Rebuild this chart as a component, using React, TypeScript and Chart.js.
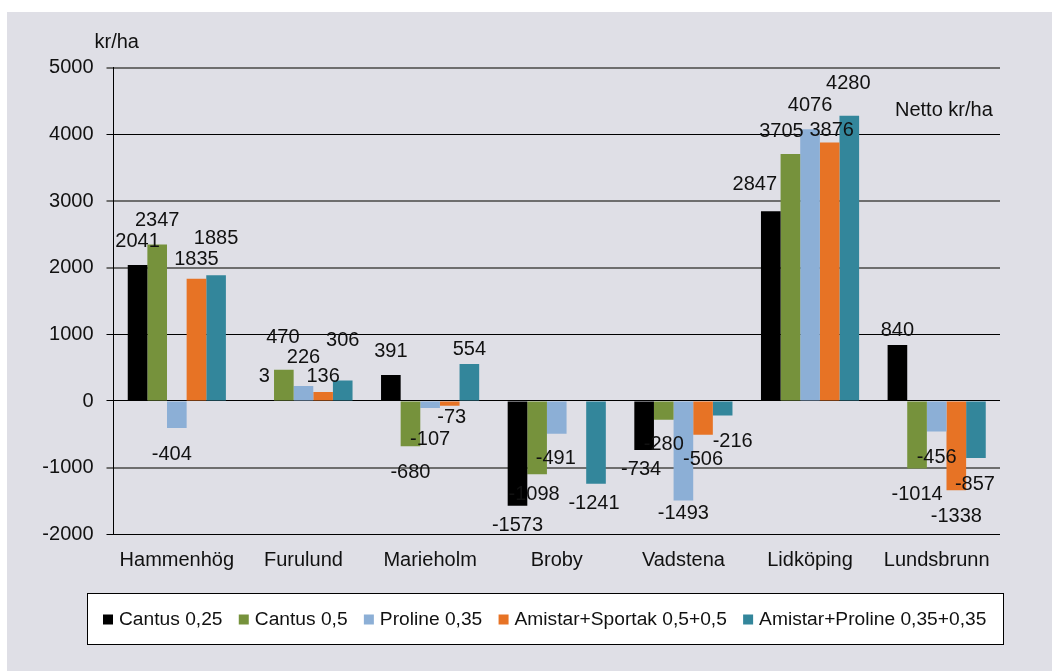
import React, { useEffect, useRef } from "react";
import { Chart, registerables } from "chart.js";

Chart.register(...registerables);

const categories = ["Hammenhög", "Furulund", "Marieholm", "Broby", "Vadstena", "Lidköping", "Lundsbrunn"];
const seriesNames = ["Cantus 0,25", "Cantus 0,5", "Proline 0,35", "Amistar+Sportak 0,5+0,5", "Amistar+Proline 0,35+0,35"];
const cantus025 = [2041, 3, 391, -1573, -734, 2847, 840];
const cantus05 = [2347, 470, -680, -1098, -280, 3705, -1014];
const proline035 = [-404, 226, -107, -491, -1493, 4076, -456];
const amistarSportak = [1835, 136, -73, null, -506, 3876, -1338];
const amistarProline = [1885, 306, 554, -1241, -216, 4280, -857];
const yMin = -2000;
const yMax = 5000;
const yStep = 1000;
const yTitle = "kr/ha";
const chartNote = "Netto kr/ha";

const seriesColors = ["#000000", "#76923c", "#8cafd6", "#e77325", "#33869b"];
const grayGridValues = [5000, 3000, 2000, -1000];

// label nudges (pixels) relative to bar end, per series, per category
const labelOffsets: number[][][] = [
  [[0, -23], [0, -24], [0, -23], [0, 20], [-3, 20], [-16, -27], [0, -15]],
  [[0, -24], [-1, -32], [0, 26], [-3, 20], [0, 25], [-9, -23], [0, 26]],
  [[-5, 27], [0, -28], [0, 31], [-1, 25], [0, 13], [0, -24], [0, 26]],
  [[0, -19], [0, -15], [2, 12], [0, 0], [0, 25], [2, -12], [0, 26]],
  [[0, -37], [0, -40], [0, -15], [-2, 20], [10, 26], [-1, -32], [-1, 26]],
];

const FONT = '"Liberation Sans", Arial, sans-serif';

const overlayPlugin = {
  id: "overlay",
  afterDatasetsDraw(chart: any) {
    const ctx = chart.ctx;
    ctx.save();
    ctx.font = `20px ${FONT}`;
    ctx.fillStyle = "#111";
    ctx.textAlign = "center";
    ctx.textBaseline = "middle";
    chart.data.datasets.forEach((ds: any, i: number) => {
      const meta = chart.getDatasetMeta(i);
      meta.data.forEach((bar: any, j: number) => {
        const v = ds.data[j];
        if (v == null) return;
        const off = labelOffsets[i][j];
        ctx.fillText(String(v), bar.x + off[0], bar.y + off[1]);
      });
    });
    ctx.restore();
  },
  afterDraw(chart: any) {
    const ctx = chart.ctx;
    const area = chart.chartArea;
    ctx.save();
    ctx.font = `20px ${FONT}`;
    ctx.fillStyle = "#111";
    ctx.textBaseline = "middle";
    ctx.textAlign = "left";
    ctx.fillText(yTitle, area.left - 19, area.top - 25);
    ctx.fillText(chartNote, area.right - 105, area.top + 43);

    // legend
    const boxL = 80, boxR = 996, boxT = 581, boxB = 632;
    ctx.fillStyle = "#ffffff";
    ctx.fillRect(boxL, boxT, boxR - boxL, boxB - boxT);
    ctx.strokeStyle = "#000";
    ctx.lineWidth = 1;
    ctx.strokeRect(boxL + 0.5, boxT + 0.5, boxR - boxL, boxB - boxT);
    ctx.font = `19.2px ${FONT}`;
    const sq = 10, gapSq = 6, gapItem = 16.3;
    const widths = seriesNames.map((n) => ctx.measureText(n).width);
    let x = boxL + 16;
    const cy = (boxT + boxB) / 2 + 1;
    seriesNames.forEach((n, i) => {
      ctx.fillStyle = seriesColors[i];
      ctx.fillRect(x, cy - sq / 2, sq, sq);
      x += sq + gapSq;
      ctx.fillStyle = "#111";
      ctx.fillText(n, x, cy);
      x += widths[i] + gapItem;
    });
    ctx.restore();
  },
};

export default function App() {
  const ref = useRef<HTMLCanvasElement | null>(null);
  useEffect(() => {
    if (!ref.current) return;
    const seriesData = [cantus025, cantus05, proline035, amistarSportak, amistarProline];
    const chart = new Chart(ref.current, {
      type: "bar",
      data: {
        labels: categories,
        datasets: seriesData.map((d, i) => ({
          label: seriesNames[i],
          data: d as any,
          backgroundColor: seriesColors[i],
          borderWidth: 0,
          barPercentage: 1,
          categoryPercentage: 0.775,
        })),
      },
      options: {
        responsive: false,
        animation: false,
        devicePixelRatio: 1,
        layout: { padding: { top: 55.7, right: 52, left: 0, bottom: 0 } },
        plugins: {
          legend: { display: false },
          tooltip: { enabled: false },
        },
        scales: {
          x: {
            grid: { display: false, drawTicks: false },
            border: { display: false },
            ticks: { font: { family: FONT, size: 20 }, color: "#111", padding: 14 },
            afterFit: (s: any) => { s.height = 136.7; },
          },
          y: {
            min: yMin,
            max: yMax,
            ticks: {
              stepSize: yStep,
              font: { family: FONT, size: 20 },
              color: "#111",
              padding: 13,
              callback: (v: any) => String(v),
            },
            grid: {
              color: (c: any) => (grayGridValues.includes(c.tick?.value) ? "#6e6e6e" : "#000"),
              lineWidth: (c: any) => (grayGridValues.includes(c.tick?.value) ? 2 : 1),
              tickLength: 7,
            },
            border: { display: true, color: "#000", width: 1 },
            afterFit: (s: any) => { s.width = 106.5; },
          },
        },
      },
      plugins: [overlayPlugin],
    });
    return () => chart.destroy();
  }, []);
  return (
    <div style={{ position: "absolute", left: 7, top: 12, width: 1045, height: 659, background: "#dfdfe6" }}>
      <canvas ref={ref} width={1045} height={659} style={{ display: "block" }} />
    </div>
  );
}
